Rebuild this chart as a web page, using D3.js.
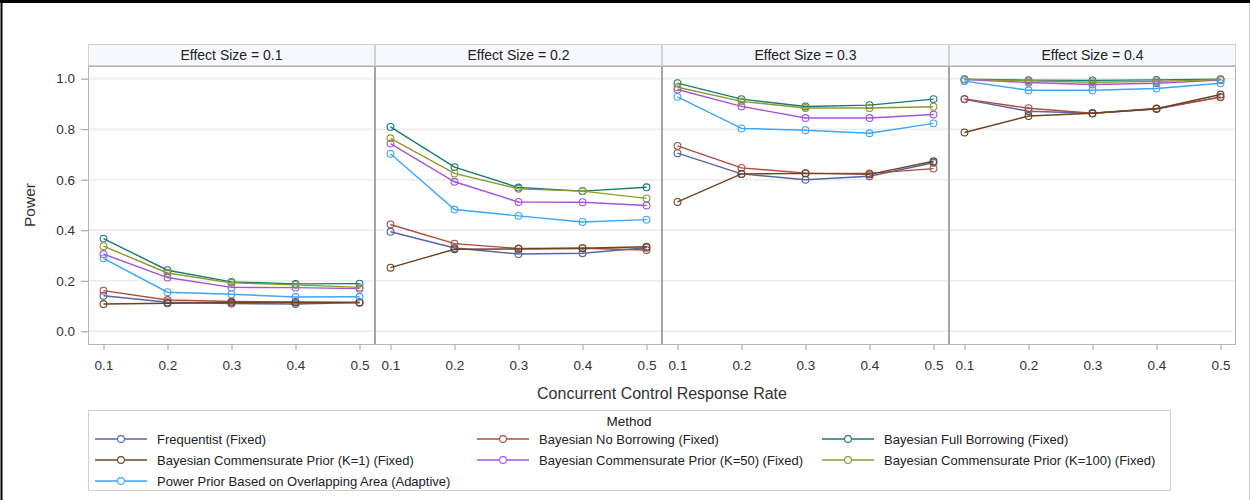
<!DOCTYPE html>
<html><head><meta charset="utf-8">
<script src="https://cdn.jsdelivr.net/npm/d3@7"></script>
<style>
body{margin:0;background:#fff}
svg{display:block}
text{font-family:"Liberation Sans",Arial,sans-serif;fill:#222}
</style>
</head><body>
<svg id="chart" width="1250" height="500"></svg>
<script>
// ---------- data ----------
const xTicks = [0.1, 0.2, 0.3, 0.4, 0.5];
const xTickLabels = ["0.1", "0.2", "0.3", "0.4", "0.5"];
const yTicks = [0.0, 0.2, 0.4, 0.6, 0.8, 1.0];
const yTickLabels = ["0.0", "0.2", "0.4", "0.6", "0.8", "1.0"];
const panels = ["Effect Size = 0.1", "Effect Size = 0.2", "Effect Size = 0.3", "Effect Size = 0.4"];
const methodNames = [
  "Frequentist (Fixed)",
  "Bayesian No Borrowing (Fixed)",
  "Bayesian Full Borrowing (Fixed)",
  "Bayesian Commensurate Prior (K=1) (Fixed)",
  "Bayesian Commensurate Prior (K=50) (Fixed)",
  "Bayesian Commensurate Prior (K=100) (Fixed)",
  "Power Prior Based on Overlapping Area (Adaptive)"
];
const methodColors = ["#5566a4", "#b04a3e", "#1a7a70", "#6b4420", "#a653e0", "#8a9a2c", "#3ba6fb"];
// values per panel (effect size 0.1 .. 0.4), each at control rate 0.1 .. 0.5
const frequentist = [
  [0.141, 0.115, 0.110, 0.108, 0.114],
  [0.394, 0.330, 0.306, 0.309, 0.331],
  [0.705, 0.623, 0.600, 0.614, 0.667],
  [0.918, 0.871, 0.863, 0.880, 0.928]
];
const noBorrowing = [
  [0.161, 0.124, 0.118, 0.116, 0.114],
  [0.423, 0.347, 0.328, 0.329, 0.322],
  [0.734, 0.647, 0.626, 0.625, 0.644],
  [0.920, 0.883, 0.863, 0.882, 0.926]
];
const fullBorrowing = [
  [0.367, 0.242, 0.196, 0.188, 0.189],
  [0.809, 0.650, 0.569, 0.555, 0.570],
  [0.982, 0.919, 0.890, 0.895, 0.919],
  [0.998, 0.994, 0.993, 0.995, 0.998]
];
const commensurateK1 = [
  [0.108, 0.111, 0.114, 0.114, 0.114],
  [0.252, 0.325, 0.326, 0.329, 0.335],
  [0.512, 0.623, 0.625, 0.621, 0.673],
  [0.787, 0.852, 0.863, 0.881, 0.937]
];
const commensurateK50 = [
  [0.306, 0.213, 0.174, 0.173, 0.169],
  [0.743, 0.592, 0.512, 0.511, 0.498],
  [0.957, 0.890, 0.844, 0.844, 0.858],
  [0.996, 0.985, 0.977, 0.982, 0.994]
];
const commensurateK100 = [
  [0.337, 0.231, 0.192, 0.184, 0.174],
  [0.764, 0.625, 0.564, 0.555, 0.526],
  [0.966, 0.910, 0.884, 0.884, 0.889],
  [0.997, 0.991, 0.986, 0.989, 0.996]
];
const powerPrior = [
  [0.289, 0.155, 0.147, 0.136, 0.137],
  [0.703, 0.482, 0.457, 0.433, 0.442],
  [0.928, 0.803, 0.796, 0.784, 0.823],
  [0.990, 0.954, 0.954, 0.961, 0.982]
];
const seriesValues = [frequentist, noBorrowing, fullBorrowing, commensurateK1, commensurateK50, commensurateK100, powerPrior];

// ---------- layout ----------
const svg = d3.select("#chart");
const W = 1250, H = 500;
const plotLeft = 88, plotRight = 1236, plotTop = 66, plotBottom = 344, headerTop = 44;
const panelW = (plotRight - plotLeft) / panels.length;
const pad = 0.0242;

// outer frame of the image
svg.append("line").attr("x1", 0).attr("x2", W).attr("y1", 1.5).attr("y2", 1.5).attr("stroke", "#000").attr("stroke-width", 3);
svg.append("line").attr("x1", 1.5).attr("x2", 1.5).attr("y1", 0).attr("y2", H).attr("stroke", "#000").attr("stroke-width", 2);
svg.append("line").attr("x1", 1249.5).attr("x2", 1249.5).attr("y1", 3).attr("y2", H).attr("stroke", "#c8c8c8").attr("stroke-width", 1);

const y = d3.scaleLinear().domain([-0.05, 1.05]).range([plotBottom, plotTop]);

// gridlines
const grid = svg.append("g");
grid.selectAll("line").data(yTicks).join("line")
  .attr("x1", plotLeft).attr("x2", plotRight)
  .attr("y1", d => y(d)).attr("y2", d => y(d))
  .attr("stroke", "#ececec").attr("stroke-width", 1.5);

// y axis
const yAxis = d3.axisLeft(y).tickValues(yTicks).tickFormat((d, i) => yTickLabels[i]).tickSizeOuter(0).tickSize(7).tickPadding(6);
const gy = svg.append("g").attr("transform", `translate(${plotLeft},0)`).call(yAxis);
gy.select(".domain").remove();
gy.selectAll(".tick line").attr("stroke", "#9a9a9a");
gy.selectAll(".tick text").style("font-size", "13.5px").style("fill", "#333").style("font-family", '"Liberation Sans",Arial,sans-serif');

svg.append("text").attr("transform", `translate(35,${(plotTop + plotBottom) / 2}) rotate(-90)`)
  .attr("text-anchor", "middle").style("font-size", "15.5px").style("fill", "#333").text("Power");

panels.forEach((title, p) => {
  const L = plotLeft + p * panelW;
  const x = d3.scaleLinear().domain([0.1 - pad, 0.5 + pad]).range([L, L + panelW]);
  // header
  svg.append("rect").attr("x", L + 0.5).attr("y", headerTop + 0.5).attr("width", panelW - 1).attr("height", plotTop - headerTop - 1)
    .attr("fill", "#f6f8fd").attr("stroke", "#d2d2d2");
  svg.append("text").attr("x", L + panelW / 2).attr("y", headerTop + 16)
    .attr("text-anchor", "middle").style("font-size", "14px").style("fill", "#222").text(title);
  // x axis
  const xAxis = d3.axisBottom(x).tickValues(xTicks).tickFormat((d, i) => xTickLabels[i]).tickSizeOuter(0).tickSize(6).tickPadding(10);
  const gx = svg.append("g").attr("transform", `translate(0,${plotBottom})`).call(xAxis);
  gx.select(".domain").remove();
  gx.selectAll(".tick line").attr("stroke", "#9a9a9a");
  gx.selectAll(".tick text").style("font-size", "13.5px").style("fill", "#333").style("font-family", '"Liberation Sans",Arial,sans-serif');

  // series
  const line = d3.line().x((d, i) => x(xTicks[i])).y(d => y(d));
  seriesValues.forEach((vals, s) => {
    const g = svg.append("g");
    g.append("path").datum(vals[p]).attr("d", line).attr("fill", "none")
      .attr("stroke", methodColors[s]).attr("stroke-width", 1.4);
    g.selectAll("circle").data(vals[p]).join("circle")
      .attr("cx", (d, i) => x(xTicks[i])).attr("cy", d => y(d)).attr("r", 3.4)
      .attr("fill", "none").attr("stroke", methodColors[s]).attr("stroke-width", 1.1);
  });
});

// panel borders
svg.append("rect").attr("x", plotLeft + 0.5).attr("y", plotTop + 0.5).attr("width", plotRight - plotLeft - 1).attr("height", plotBottom - plotTop)
  .attr("fill", "none").attr("stroke", "#b4b4b4");
for (let p = 1; p < panels.length; p++) {
  const xx = plotLeft + p * panelW;
  svg.append("line").attr("x1", xx).attr("x2", xx).attr("y1", plotTop).attr("y2", plotBottom)
    .attr("stroke", "#a2a6aa").attr("stroke-width", 2);
}

svg.append("text").attr("x", (plotLeft + plotRight) / 2).attr("y", 399)
  .attr("text-anchor", "middle").style("font-size", "16px").style("fill", "#333").text("Concurrent Control Response Rate");

// legend
const lg = svg.append("g");
lg.append("rect").attr("x", 88.5).attr("y", 410.5).attr("width", 1082).attr("height", 80)
  .attr("fill", "none").attr("stroke", "#d0d0d0");
lg.append("text").attr("x", 629).attr("y", 426).attr("text-anchor", "middle").style("font-size", "13.5px").style("fill", "#222").text("Method");
const colX = [95, 477, 822];
const rowY = [439, 460, 481];
methodNames.forEach((name, i) => {
  const cx = colX[i % 3], cy = rowY[Math.floor(i / 3)];
  lg.append("line").attr("x1", cx).attr("x2", cx + 52).attr("y1", cy).attr("y2", cy)
    .attr("stroke", methodColors[i]).attr("stroke-width", 1.4);
  lg.append("circle").attr("cx", cx + 26).attr("cy", cy).attr("r", 3.4)
    .attr("fill", "#fff").attr("stroke", methodColors[i]).attr("stroke-width", 1.1);
  lg.append("text").attr("x", cx + 62).attr("y", cy + 4.5).style("font-size", "13px").style("fill", "#222").text(name);
});
</script>
</body></html>
